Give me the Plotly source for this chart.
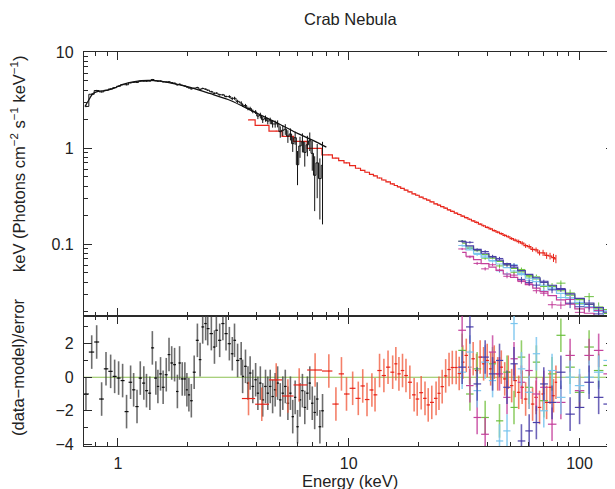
import numpy as np
import plotly.graph_objects as go
from plotly.subplots import make_subplots

# ---------------- data ----------------
# soft X-ray spectrum (black)
blk_energy = [0.727, 0.77, 0.809, 0.85, 0.888, 0.93, 0.968, 1.007, 1.048, 1.09,
              1.135, 1.17, 1.21, 1.25, 1.295, 1.33, 1.375, 1.41, 1.46, 1.49,
              1.53, 1.57, 1.62, 1.665, 1.71, 1.76, 1.81, 1.85, 1.90, 1.95,
              1.99, 2.03, 2.08, 2.14, 2.21, 2.27, 2.33, 2.40, 2.45, 2.54,
              2.62, 2.67, 2.76, 2.85, 2.94, 3.04, 3.13, 3.20, 3.30, 3.42,
              3.47, 3.57, 3.66, 3.74, 3.84, 3.95, 4.04, 4.14, 4.24, 4.36,
              4.46, 4.57, 4.68, 4.80, 4.92, 5.05, 5.18, 5.31, 5.45, 5.59,
              5.72, 5.86, 6.00, 6.15, 6.30, 6.45, 6.62, 6.78, 6.95, 7.12,
              7.30, 7.50, 7.70]
blk_flux = [2.71, 3.63, 3.97, 3.84, 3.99, 4.12, 4.25, 4.40, 4.57, 4.56,
            4.78, 4.83, 4.82, 4.98, 4.98, 4.97, 4.98, 5.17, 5.02, 4.96,
            4.98, 4.89, 4.87, 4.90, 4.80, 4.73, 4.55, 4.62, 4.49, 4.42,
            4.32, 4.23, 4.13, 4.19, 4.26, 4.08, 4.17, 4.10, 4.00, 3.86,
            3.71, 3.73, 3.59, 3.58, 3.44, 3.43, 3.27, 3.30, 3.06, 2.95,
            2.79, 2.77, 2.58, 2.58, 2.41, 2.37, 2.15, 2.18, 1.97, 2.03,
            1.91, 1.92, 1.78, 1.78, 1.79, 1.48, 1.53, 1.57, 1.33, 1.40,
            1.11, 1.28, 0.67, 1.05, 1.16, 0.90, 1.08, 1.19, 0.88, 0.52,
            0.70, 0.48, 0.66]
blk_err = [0.05, 0.06, 0.06, 0.06, 0.06, 0.06, 0.06, 0.07, 0.07, 0.07,
           0.07, 0.07, 0.07, 0.07, 0.07, 0.07, 0.07, 0.07, 0.07, 0.07,
           0.07, 0.07, 0.07, 0.07, 0.07, 0.07, 0.07, 0.07, 0.07, 0.07,
           0.07, 0.07, 0.07, 0.07, 0.08, 0.08, 0.08, 0.08, 0.08, 0.08,
           0.08, 0.08, 0.08, 0.08, 0.08, 0.12, 0.12, 0.12, 0.12, 0.12,
           0.11, 0.11, 0.11, 0.11, 0.11, 0.11, 0.15, 0.15, 0.15, 0.15,
           0.15, 0.15, 0.15, 0.15, 0.15, 0.20, 0.20, 0.20, 0.20, 0.20,
           0.20, 0.20, 0.26, 0.26, 0.26, 0.26, 0.26, 0.26, 0.30, 0.30,
           0.40, 0.30, 0.50]
blk_resid = [-1.0, 1.5, 2.1, -1.3, 0.5, 0.35, 0.05, -0.05, -0.2, -2.05,
             -0.3, -0.75, -1.75, -0.05, -0.35, -0.8, -0.95, 1.75, -0.05, -0.55,
             0.2, -0.6, 0.15, 1.35, 0.85, 0.75, -0.85, 0.85, -0.1, -0.1,
             -0.75, -1.05, -1.4, 0.3, 2.2, 1.05, 3.0, 3.2, 2.9, 2.6,
             1.8, 2.8, 2.2, 3.2, 2.6, 2.0, 1.4, 2.2, 1.0, 1.1,
             0.05, 0.65, -0.35, 0.25, -0.55, -0.15, -0.95, -0.35, -1.35, -0.55,
             -0.95, -0.55, -1.15, -0.75, -0.35, -1.35, -0.95, -0.55, -1.55, -0.95,
             -2.35, -1.2, -2.95, -1.35, -0.8, -1.8, -0.95, -0.35, -1.55, -2.1,
             -1.3, -2.95, -2.0]
blk_model_energy = [0.72, 0.75, 0.78, 0.82, 0.88, 0.95, 1.05, 1.2, 1.35, 1.5,
                    1.7, 2.0, 2.5, 3.0, 3.5, 4.0, 5.0, 6.0, 7.0, 8.0]
blk_model_flux = [2.7, 3.2, 3.7, 3.9, 3.95, 4.15, 4.6, 4.95, 5.05, 5.0,
                  4.75, 4.35, 3.7, 3.2, 2.7, 2.3, 1.78, 1.42, 1.2, 1.02]

# hard X-ray spectrum (red)
red_energy = [3.68, 4.2, 4.85, 5.45, 6.1, 7.15, 8.2, 8.8, 9.3, 9.78,
              10.4, 11.0, 11.5, 12.0, 12.6, 13.0, 13.6, 14.2, 14.8, 15.5,
              16.0, 16.5, 17.1, 17.7, 18.4, 19.2, 19.8, 20.6, 21.4, 22.1,
              22.9, 23.9, 24.6, 25.4, 26.3, 27.2, 28.1, 29.2, 30.1, 31.2,
              32.3, 33.4, 34.6, 35.8, 37.1, 38.4, 39.8, 41.2, 42.7, 44.2,
              45.8, 47.4, 49.1, 50.8, 52.6, 54.5, 56.4, 58.4, 60.5, 62.6,
              64.8, 67.1, 69.5, 72.0, 74.5, 77.1, 79.0]
red_flux = [1.96, 1.72, 1.50, 1.32, 1.17, 0.99, 0.85, 0.786, 0.74, 0.70,
            0.654, 0.615, 0.586, 0.559, 0.530, 0.512, 0.487, 0.464, 0.444, 0.422,
            0.407, 0.394, 0.379, 0.364, 0.349, 0.333, 0.322, 0.308, 0.296, 0.286,
            0.275, 0.262, 0.254, 0.245, 0.236, 0.227, 0.219, 0.210, 0.203, 0.195,
            0.188, 0.181, 0.174, 0.168, 0.161, 0.155, 0.149, 0.144, 0.138, 0.133,
            0.128, 0.123, 0.119, 0.114, 0.110, 0.106, 0.102, 0.096, 0.094, 0.088,
            0.087, 0.081, 0.081, 0.076, 0.075, 0.072, 0.070]
red_err = [0.020, 0.018, 0.015, 0.013, 0.012, 0.010, 0.009, 0.008, 0.008, 0.007,
           0.006, 0.006, 0.006, 0.006, 0.006, 0.006, 0.006, 0.006, 0.006, 0.006,
           0.005, 0.005, 0.005, 0.005, 0.005, 0.005, 0.005, 0.005, 0.005, 0.005,
           0.004, 0.004, 0.004, 0.004, 0.004, 0.004, 0.004, 0.004, 0.004, 0.004,
           0.004, 0.004, 0.004, 0.004, 0.004, 0.004, 0.004, 0.004, 0.004, 0.004,
           0.004, 0.004, 0.004, 0.004, 0.004, 0.005, 0.005, 0.005, 0.005, 0.005,
           0.005, 0.005, 0.006, 0.006, 0.006, 0.007, 0.007]
red_resid = [-1.27, -1.61, -0.16, -1.12, -0.46, 0.43, 0.37, -1.6, 0.2, -1.0,
             -0.66, -1.26, -0.52, -1.33, -0.76, -1.05, 0.4, 0.1, 0.6, 0.3,
             0.8, 0.2, 0.4, 0.1, -0.3, -1.05, -1.3, -0.92, -1.26, -1.65,
             -1.5, -1.26, -0.96, -0.56, 0.08, 0.46, 0.58, 0.58, 0.22, 0.9,
             1.3, 0.6, 1.1, 0.4, 1.2, 0.8, 1.0, 0.5, 0.9, 0.2,
             0.6, -0.1, 0.3, -0.5, -0.2, -0.9, -0.6, -1.3, -0.9, -1.6,
             -1.2, -1.8, -1.0, -1.5, -0.6, -1.1, -0.3]

# very hard X-ray detectors (green, blue, cyan, magenta)
he_energy = [31, 33.5, 36, 39, 42, 45, 48.5, 52, 56, 60.5,
             65, 70, 76, 83, 91, 100, 110, 121, 133, 146]
he_err_frac = [0.03, 0.03, 0.035, 0.035, 0.04, 0.04, 0.045, 0.05, 0.05, 0.055,
               0.06, 0.065, 0.07, 0.08, 0.09, 0.10, 0.11, 0.12, 0.14, 0.16]

green_model = [0.102, 0.0926, 0.0853, 0.0777, 0.0714, 0.066, 0.0605, 0.0558, 0.0512, 0.0469,
               0.0432, 0.0397, 0.0361, 0.0326, 0.0293, 0.0263, 0.0236, 0.0211, 0.0189, 0.017]
green_flux = [0.1069, 0.0898, 0.0868, 0.0712, 0.0737, 0.0591, 0.0613, 0.0508, 0.0543, 0.0454,
              0.0455, 0.0361, 0.0366, 0.0391, 0.0309, 0.0239, 0.0283, 0.0221, 0.0208, 0.0156]
green_resid = [1.6, -1.0, 0.5, -2.4, 0.8, -2.6, 0.3, -1.8, 1.2, -0.6,
               0.9, -1.4, 0.2, 2.5, 0.6, -0.9, 1.8, 0.4, 0.7, -0.5]

blue_model = [0.105, 0.0955, 0.0879, 0.0801, 0.0736, 0.068, 0.0624, 0.0575, 0.0528, 0.0483,
              0.0445, 0.0409, 0.0372, 0.0336, 0.0302, 0.0271, 0.0243, 0.0218, 0.0195, 0.0175]
blue_flux = [0.1069, 0.1041, 0.0867, 0.0835, 0.0742, 0.0707, 0.0607, 0.0598, 0.0428, 0.0398,
             0.0373, 0.0398, 0.0333, 0.0344, 0.0242, 0.0222, 0.0235, 0.0187, 0.0151, 0.0189]
blue_resid = [0.6, 3.0, -0.4, 1.2, 0.2, 1.0, -0.6, 0.8, -3.8, -3.2,
              -2.7, -0.4, -1.5, 0.3, -2.2, -1.8, -0.3, -1.2, -1.6, 0.5]

cyan_model = [0.0956, 0.0869, 0.08, 0.0729, 0.067, 0.0619, 0.0568, 0.0523, 0.048, 0.044,
              0.0405, 0.0372, 0.0339, 0.0306, 0.0275, 0.0247, 0.0221, 0.0198, 0.0177, 0.0159]
cyan_flux = [0.0965, 0.0908, 0.0778, 0.0752, 0.0665, 0.0525, 0.0486, 0.0607, 0.0492, 0.0418,
             0.0439, 0.0324, 0.0348, 0.0277, 0.0275, 0.0235, 0.0221, 0.0205, 0.0202, 0.0154]
cyan_resid = [0.3, 1.5, -0.8, 0.9, -0.2, -3.8, -3.2, 3.2, 0.5, -0.9,
              1.4, -2.0, 0.4, -1.2, 0.0, -0.5, 0.0, 0.3, 1.0, -0.2]

magenta_model = [0.0819, 0.0745, 0.0686, 0.0625, 0.0574, 0.053, 0.0487, 0.0449, 0.0412, 0.0377,
                 0.0347, 0.0319, 0.029, 0.0262, 0.0236, 0.0211, 0.019, 0.017, 0.0152, 0.0137]
magenta_flux = [0.0888, 0.0734, 0.0628, 0.0551, 0.0608, 0.0534, 0.0461, 0.0474, 0.0406, 0.0385,
                0.0326, 0.0307, 0.0233, 0.0231, 0.0264, 0.0194, 0.0217, 0.0203, 0.0156, 0.0159]
magenta_resid = [2.8, -0.5, -2.4, -3.4, 1.5, 0.2, -1.2, 1.1, -0.3, 0.4,
                 -1.0, -0.6, -2.8, -1.5, 1.3, -0.8, 1.3, 1.6, 0.2, 1.0]

x_tick_vals = [1, 10, 100]
x_tick_text = ["1", "10", "100"]
y_tick_vals = [0.1, 1, 10]
y_tick_text = ["0.1", "1", "10"]
r_tick_vals = [-4, -2, 0, 2]
r_tick_text = ["\u22124", "\u22122", "0", "2"]

# ---------------- styling ----------------
FONT = "Liberation Sans, Arial, Helvetica, sans-serif"
AX = "#2a2a2a"
C_BLK = "#111111"
C_BLK_R = "rgba(60,60,60,0.75)"
C_RED = "#e8261c"
C_RED_R = "rgba(240,85,55,0.75)"
C_GREEN = "#6cc040"
C_BLUE = "#4a3ea8"
C_CYAN = "#7cc6ee"
C_MAG = "#c4409c"
C_ZERO = "#8cc152"


def bin_halfwidths(e):
    le = np.log10(np.asarray(e, dtype=float))
    mid = (le[1:] + le[:-1]) / 2
    lo = np.concatenate([[le[0] - (mid[0] - le[0])], mid])
    hi = np.concatenate([mid, [le[-1] + (le[-1] - mid[-1])]])
    e = np.asarray(e, dtype=float)
    return 10 ** hi - e, e - 10 ** lo


fig = make_subplots(rows=2, cols=1, shared_xaxes=True, vertical_spacing=0,
                    row_heights=[264 / 394, 130 / 394])

# ---- top panel ----
fig.add_trace(go.Scatter(
    x=red_energy, y=red_flux, mode="lines", line=dict(color=C_RED, width=1.2, shape="hvh"),
    error_y=dict(type="data", array=red_err, color=C_RED, thickness=1, width=0),
    showlegend=False), row=1, col=1)

he_sets = [
    (green_model, green_flux, C_GREEN),
    (cyan_model, cyan_flux, C_CYAN),
    (magenta_model, magenta_flux, C_MAG),
    (blue_model, blue_flux, C_BLUE),
]
he_hi, he_lo = bin_halfwidths(he_energy)
frac = np.asarray(he_err_frac)
for model, flux, col in he_sets:
    fig.add_trace(go.Scatter(
        x=he_energy, y=model, mode="lines", line=dict(color=col, width=1.2, shape="hvh"),
        showlegend=False), row=1, col=1)
    fig.add_trace(go.Scatter(
        x=he_energy, y=flux, mode="markers", marker=dict(size=1, color=col),
        error_x=dict(type="data", array=he_hi, arrayminus=he_lo, symmetric=False,
                     color=col, thickness=1, width=0),
        error_y=dict(type="data", array=np.asarray(model) * frac, color=col, thickness=1, width=0),
        showlegend=False), row=1, col=1)

fig.add_trace(go.Scatter(
    x=blk_energy, y=blk_flux, mode="lines", line=dict(color=C_BLK, width=1, shape="hvh"),
    error_y=dict(type="data", array=blk_err, color=C_BLK, thickness=1, width=0),
    showlegend=False), row=1, col=1)
fig.add_trace(go.Scatter(
    x=blk_model_energy, y=blk_model_flux, mode="lines",
    line=dict(color=C_BLK, width=1.3, shape="spline"), showlegend=False), row=1, col=1)

# ---- residual panel ----
fig.add_trace(go.Scatter(
    x=[0.5, 300], y=[0, 0], mode="lines", line=dict(color=C_ZERO, width=1.2),
    showlegend=False), row=2, col=1)

def add_resid(e, r, col_bar, col_c):
    hi, lo = bin_halfwidths(e)
    fig.add_trace(go.Scatter(
        x=e, y=r, mode="markers", marker=dict(size=1, color=col_c),
        error_x=dict(type="data", array=hi, arrayminus=lo, symmetric=False,
                     color=col_c, thickness=1.2, width=0),
        error_y=dict(type="data", array=[1.0] * len(r), color=col_bar, thickness=1.6, width=0),
        showlegend=False), row=2, col=1)

add_resid(blk_energy, blk_resid, C_BLK_R, C_BLK)
add_resid(red_energy, red_resid, C_RED_R, C_RED)
add_resid(he_energy, green_resid, "rgba(120,195,70,0.8)", C_GREEN)
add_resid(he_energy, magenta_resid, "rgba(196,64,156,0.8)", C_MAG)
add_resid(he_energy, cyan_resid, "rgba(124,198,238,0.85)", C_CYAN)
add_resid(he_energy, blue_resid, "rgba(74,62,168,0.8)", C_BLUE)

# ---- axes ----
x_minor = [v * m for v in (0.1, 1, 10, 100) for m in range(2, 10)]
y_minor = [v * m for v in (0.01, 0.1, 1) for m in range(2, 10)]

common = dict(showline=True, linecolor=AX, linewidth=1.3, mirror="allticks",
              ticks="inside", ticklen=8, tickwidth=1.3, tickcolor=AX,
              showgrid=False, zeroline=False, automargin=False,
              tickfont=dict(family=FONT, size=16, color="#222"))

xr = [np.log10(0.713), np.log10(141)]
fig.update_xaxes(type="log", range=xr, tickmode="array", tickvals=x_tick_vals,
                 ticktext=x_tick_text,
                 minor=dict(tickmode="array", tickvals=x_minor, ticks="inside",
                            ticklen=4, tickwidth=1.1, tickcolor=AX),
                 **common)
fig.update_xaxes(showticklabels=False, row=1, col=1)
fig.update_xaxes(showticklabels=True, ticklabelstandoff=3, row=2, col=1)

fig.update_yaxes(type="log", range=[-1.75, 1.0], tickmode="array", tickvals=y_tick_vals,
                 ticktext=y_tick_text, ticklabelstandoff=6,
                 minor=dict(tickmode="array", tickvals=y_minor, ticks="inside",
                            ticklen=4, tickwidth=1.1, tickcolor=AX),
                 row=1, col=1, **common)
fig.update_yaxes(range=[-4.1, 3.65], tickmode="array", tickvals=r_tick_vals,
                 ticktext=r_tick_text, ticklabelstandoff=6,
                 minor=dict(tickmode="array", tickvals=[-3, -1, 1, 3], ticks="inside",
                            ticklen=4, tickwidth=1.1, tickcolor=AX),
                 row=2, col=1, **common)

tfont = dict(family=FONT, size=16.5, color="#222")
annotations = [
    dict(text="Crab Nebula", x=0.502, y=(446 - 19) / 394, xref="paper", yref="paper",
         showarrow=False, xanchor="center", yanchor="middle", font=tfont),
    dict(text="Energy (keV)", x=0.502, y=(446 - 481) / 394, xref="paper", yref="paper",
         showarrow=False, xanchor="center", yanchor="middle", font=tfont),
    dict(text="keV (Photons cm<sup>\u22122</sup> s<sup>\u22121</sup> keV<sup>\u22121</sup>)",
         x=(18 - 84) / 530, y=(446 - 164) / 394, xref="paper", yref="paper",
         showarrow=False, xanchor="center", yanchor="middle", textangle=-90, font=tfont),
    dict(text="(data\u2212model)/error", x=(18 - 84) / 530, y=(446 - 367) / 394,
         xref="paper", yref="paper",
         showarrow=False, xanchor="center", yanchor="middle", textangle=-90, font=tfont),
]

# the page body adds an 8px offset, so the figure is 8px smaller than the window
fig.update_layout(width=607, height=481, margin=dict(l=76, r=1, t=44, b=43),
                  paper_bgcolor="white", plot_bgcolor="white",
                  annotations=annotations, showlegend=False,
                  font=dict(family=FONT, size=16, color="#222"))

fig.write_html("out.html")
